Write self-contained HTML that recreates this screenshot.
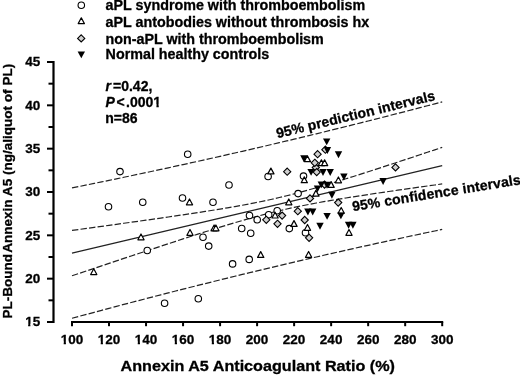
<!DOCTYPE html>
<html><head><meta charset="utf-8"><style>html,body{margin:0;padding:0;background:#fff;width:520px;height:376px;overflow:hidden;}svg{display:block;will-change:transform;filter:blur(0.3px);}svg text{font-family:"Liberation Sans",sans-serif;font-weight:bold;stroke:#000;stroke-width:0.3px;fill:#000;}</style></head>
<body>
<svg width="520" height="376" viewBox="0 0 520 376">
<rect width="520" height="376" fill="#fff"/>
<circle cx="81.3" cy="5.2" r="3.25" fill="#fff" stroke="#000" stroke-width="1.1"/>
<path d="M81.30,17.80 L84.40,23.60 L78.20,23.60 Z" fill="#fff" stroke="#000" stroke-width="1.2" stroke-linejoin="round"/>
<path d="M81.20,34.80 L84.80,38.40 L81.20,42.00 L77.60,38.40 Z" fill="#d0d0d0" stroke="#000" stroke-width="1.1"/>
<path d="M77.60,51.40 L85.00,51.40 L81.30,58.30 Z" fill="#000"/>
<text x="105.6" y="10.2"  font-size="14" textLength="259.6" lengthAdjust="spacingAndGlyphs">aPL syndrome with thromboembolism</text>
<text x="105.6" y="27.0"  font-size="14" textLength="263.6" lengthAdjust="spacingAndGlyphs">aPL antobodies without thrombosis hx</text>
<text x="105.6" y="43.8"  font-size="14" textLength="218.2" lengthAdjust="spacingAndGlyphs">non-aPL with thromboembolism</text>
<text x="105.6" y="58.6"  font-size="14" textLength="163.7" lengthAdjust="spacingAndGlyphs">Normal healthy controls</text>
<text y="91"  font-size="14"><tspan x="105.4" font-style="italic">r</tspan><tspan x="113">=0.42,</tspan></text>
<text y="106.9"  font-size="14"><tspan x="105.4" font-style="italic">P</tspan><tspan x="116.4">&lt;</tspan><tspan x="126.1">.0001</tspan></text>
<text x="105.3" y="122.8"  font-size="14">n=86</text>
<path d="M53.5,61 V323" stroke="#000" stroke-width="2.2" fill="none"/>
<path d="M47,322.00 H53.5" stroke="#000" stroke-width="2" fill="none"/>
<text x="40.2" y="326.30"  font-size="13.5" text-anchor="end">15</text>
<path d="M47,278.67 H53.5" stroke="#000" stroke-width="2" fill="none"/>
<text x="40.2" y="282.97"  font-size="13.5" text-anchor="end">20</text>
<path d="M47,235.33 H53.5" stroke="#000" stroke-width="2" fill="none"/>
<text x="40.2" y="239.63"  font-size="13.5" text-anchor="end">25</text>
<path d="M47,192.00 H53.5" stroke="#000" stroke-width="2" fill="none"/>
<text x="40.2" y="196.30"  font-size="13.5" text-anchor="end">30</text>
<path d="M47,148.67 H53.5" stroke="#000" stroke-width="2" fill="none"/>
<text x="40.2" y="152.97"  font-size="13.5" text-anchor="end">35</text>
<path d="M47,105.33 H53.5" stroke="#000" stroke-width="2" fill="none"/>
<text x="40.2" y="109.63"  font-size="13.5" text-anchor="end">40</text>
<path d="M47,62.00 H53.5" stroke="#000" stroke-width="2" fill="none"/>
<text x="40.2" y="66.30"  font-size="13.5" text-anchor="end">45</text>
<path d="M48.5,300.33 H53.5" stroke="#000" stroke-width="2" fill="none"/>
<path d="M48.5,257.00 H53.5" stroke="#000" stroke-width="2" fill="none"/>
<path d="M48.5,213.67 H53.5" stroke="#000" stroke-width="2" fill="none"/>
<path d="M48.5,170.33 H53.5" stroke="#000" stroke-width="2" fill="none"/>
<path d="M48.5,127.00 H53.5" stroke="#000" stroke-width="2" fill="none"/>
<path d="M48.5,83.67 H53.5" stroke="#000" stroke-width="2" fill="none"/>
<path d="M71,322 H443.2" stroke="#000" stroke-width="2.2" fill="none"/>
<path d="M72.00,322 V326.2" stroke="#000" stroke-width="2" fill="none"/>
<text x="72.00" y="343.9"  font-size="13.5" text-anchor="middle">100</text>
<path d="M109.02,322 V326.2" stroke="#000" stroke-width="2" fill="none"/>
<text x="109.02" y="343.9"  font-size="13.5" text-anchor="middle">120</text>
<path d="M146.04,322 V326.2" stroke="#000" stroke-width="2" fill="none"/>
<text x="146.04" y="343.9"  font-size="13.5" text-anchor="middle">140</text>
<path d="M183.06,322 V326.2" stroke="#000" stroke-width="2" fill="none"/>
<text x="183.06" y="343.9"  font-size="13.5" text-anchor="middle">160</text>
<path d="M220.08,322 V326.2" stroke="#000" stroke-width="2" fill="none"/>
<text x="220.08" y="343.9"  font-size="13.5" text-anchor="middle">180</text>
<path d="M257.10,322 V326.2" stroke="#000" stroke-width="2" fill="none"/>
<text x="257.10" y="343.9"  font-size="13.5" text-anchor="middle">200</text>
<path d="M294.12,322 V326.2" stroke="#000" stroke-width="2" fill="none"/>
<text x="294.12" y="343.9"  font-size="13.5" text-anchor="middle">220</text>
<path d="M331.14,322 V326.2" stroke="#000" stroke-width="2" fill="none"/>
<text x="331.14" y="343.9"  font-size="13.5" text-anchor="middle">240</text>
<path d="M368.16,322 V326.2" stroke="#000" stroke-width="2" fill="none"/>
<text x="368.16" y="343.9"  font-size="13.5" text-anchor="middle">260</text>
<path d="M405.18,322 V326.2" stroke="#000" stroke-width="2" fill="none"/>
<text x="405.18" y="343.9"  font-size="13.5" text-anchor="middle">280</text>
<path d="M442.20,322 V326.2" stroke="#000" stroke-width="2" fill="none"/>
<text x="442.20" y="343.9"  font-size="13.5" text-anchor="middle">300</text>
<text x="120.5" y="370.6"  font-size="15.5" textLength="274.5" lengthAdjust="spacingAndGlyphs">Annexin A5 Anticoagulant Ratio (%)</text>
<text transform="translate(12,318.5) rotate(-90)" x="0" y="0"  font-size="13.5">PL-Bound</text>
<text transform="translate(12,252.8) rotate(-90)" x="0" y="0"  font-size="13.5" textLength="189" lengthAdjust="spacingAndGlyphs">Annexin A5 (ng/aliquot of PL)</text>
<path d="M72.00,253.10 L79.40,251.35 L86.81,249.60 L94.21,247.85 L101.62,246.10 L109.02,244.36 L116.42,242.61 L123.83,240.86 L131.23,239.11 L138.64,237.36 L146.04,235.61 L153.44,233.86 L160.85,232.11 L168.25,230.36 L175.66,228.61 L183.06,226.87 L190.46,225.12 L197.87,223.37 L205.27,221.62 L212.68,219.87 L220.08,218.12 L227.48,216.37 L234.89,214.62 L242.29,212.87 L249.70,211.13 L257.10,209.38 L264.50,207.63 L271.91,205.88 L279.31,204.13 L286.72,202.38 L294.12,200.63 L301.52,198.88 L308.93,197.13 L316.33,195.39 L323.74,193.64 L331.14,191.89 L338.54,190.14 L345.95,188.39 L353.35,186.64 L360.76,184.89 L368.16,183.14 L375.56,181.39 L382.97,179.64 L390.37,177.90 L397.78,176.15 L405.18,174.40 L412.58,172.65 L419.99,170.90 L427.39,169.15 L434.80,167.40 L442.20,165.65" fill="none" stroke="#222" stroke-width="1.2"/>
<path d="M72.00,230.40 L79.40,229.39 L86.81,228.38 L94.21,227.37 L101.62,226.35 L109.02,225.33 L116.42,224.31 L123.83,223.28 L131.23,222.25 L138.64,221.21 L146.04,220.17 L153.44,219.12 L160.85,218.06 L168.25,216.99 L175.66,215.91 L183.06,214.82 L190.46,213.71 L197.87,212.59 L205.27,211.44 L212.68,210.27 L220.08,209.07 L227.48,207.83 L234.89,206.56 L242.29,205.23 L249.70,203.84 L257.10,202.39 L264.50,200.86 L271.91,199.24 L279.31,197.54 L286.72,195.75 L294.12,193.86 L301.52,191.90 L308.93,189.85 L316.33,187.74 L323.74,185.57 L331.14,183.35 L338.54,181.09 L345.95,178.79 L353.35,176.46 L360.76,174.11 L368.16,171.74 L375.56,169.35 L382.97,166.94 L390.37,164.52 L397.78,162.09 L405.18,159.66 L412.58,157.21 L419.99,154.75 L427.39,152.29 L434.80,149.83 L442.20,147.36" fill="none" stroke="#222" stroke-width="1.2" stroke-dasharray="6.4 2.2"/>
<path d="M72.00,275.80 L79.40,273.31 L86.81,270.82 L94.21,268.34 L101.62,265.86 L109.02,263.38 L116.42,260.90 L123.83,258.43 L131.23,255.97 L138.64,253.51 L146.04,251.05 L153.44,248.60 L160.85,246.17 L168.25,243.74 L175.66,241.32 L183.06,238.91 L190.46,236.52 L197.87,234.15 L205.27,231.80 L212.68,229.47 L220.08,227.17 L227.48,224.91 L234.89,222.69 L242.29,220.52 L249.70,218.41 L257.10,216.36 L264.50,214.40 L271.91,212.51 L279.31,210.72 L286.72,209.02 L294.12,207.40 L301.52,205.87 L308.93,204.42 L316.33,203.03 L323.74,201.70 L331.14,200.43 L338.54,199.19 L345.95,197.99 L353.35,196.82 L360.76,195.67 L368.16,194.55 L375.56,193.44 L382.97,192.35 L390.37,191.27 L397.78,190.20 L405.18,189.14 L412.58,188.09 L419.99,187.05 L427.39,186.01 L434.80,184.98 L442.20,183.95" fill="none" stroke="#222" stroke-width="1.2" stroke-dasharray="6.4 2.2"/>
<path d="M72.00,187.92 L79.40,186.43 L86.81,184.92 L94.21,183.41 L101.62,181.89 L109.02,180.36 L116.42,178.83 L123.83,177.28 L131.23,175.73 L138.64,174.16 L146.04,172.59 L153.44,171.01 L160.85,169.42 L168.25,167.82 L175.66,166.21 L183.06,164.59 L190.46,162.96 L197.87,161.32 L205.27,159.68 L212.68,158.02 L220.08,156.35 L227.48,154.68 L234.89,152.99 L242.29,151.30 L249.70,149.59 L257.10,147.88 L264.50,146.15 L271.91,144.42 L279.31,142.68 L286.72,140.92 L294.12,139.16 L301.52,137.38 L308.93,135.60 L316.33,133.81 L323.74,132.01 L331.14,130.19 L338.54,128.37 L345.95,126.54 L353.35,124.70 L360.76,122.85 L368.16,120.99 L375.56,119.12 L382.97,117.24 L390.37,115.35 L397.78,113.45 L405.18,111.54 L412.58,109.63 L419.99,107.70 L427.39,105.77 L434.80,103.83 L442.20,101.87" fill="none" stroke="#222" stroke-width="1.2" stroke-dasharray="6.4 2.2"/>
<path d="M72.00,318.28 L79.40,316.28 L86.81,314.28 L94.21,312.30 L101.62,310.32 L109.02,308.35 L116.42,306.39 L123.83,304.43 L131.23,302.49 L138.64,300.56 L146.04,298.63 L153.44,296.72 L160.85,294.81 L168.25,292.91 L175.66,291.02 L183.06,289.14 L190.46,287.27 L197.87,285.41 L205.27,283.56 L212.68,281.72 L220.08,279.89 L227.48,278.07 L234.89,276.25 L242.29,274.45 L249.70,272.66 L257.10,270.87 L264.50,269.10 L271.91,267.34 L279.31,265.58 L286.72,263.84 L294.12,262.11 L301.52,260.38 L308.93,258.67 L316.33,256.96 L323.74,255.27 L331.14,253.58 L338.54,251.91 L345.95,250.24 L353.35,248.58 L360.76,246.94 L368.16,245.30 L375.56,243.67 L382.97,242.05 L390.37,240.44 L397.78,238.84 L405.18,237.25 L412.58,235.67 L419.99,234.10 L427.39,232.53 L434.80,230.98 L442.20,229.43" fill="none" stroke="#222" stroke-width="1.2" stroke-dasharray="6.4 2.2"/>
<rect x="60.69" y="341.42" width="3.00" height="4.18" fill="#fff"/><rect x="65.94" y="341.42" width="2.43" height="4.18" fill="#fff"/>
<rect x="97.71" y="341.42" width="3.00" height="4.18" fill="#fff"/><rect x="102.96" y="341.42" width="2.43" height="4.18" fill="#fff"/>
<rect x="134.73" y="341.42" width="3.00" height="4.18" fill="#fff"/><rect x="139.98" y="341.42" width="2.43" height="4.18" fill="#fff"/>
<rect x="171.75" y="341.42" width="3.00" height="4.18" fill="#fff"/><rect x="177.00" y="341.42" width="2.43" height="4.18" fill="#fff"/>
<rect x="208.77" y="341.42" width="3.00" height="4.18" fill="#fff"/><rect x="214.02" y="341.42" width="2.43" height="4.18" fill="#fff"/>
<rect x="25.13" y="323.82" width="3.00" height="4.18" fill="#fff"/><rect x="30.39" y="323.82" width="2.43" height="4.18" fill="#fff"/>
<rect x="153.33" y="104.37" width="3.09" height="4.23" fill="#fff"/><rect x="158.74" y="104.37" width="2.51" height="4.23" fill="#fff"/>
<text transform="translate(277.4,138.3) rotate(-13.6)"  font-size="14" textLength="163" lengthAdjust="spacing">95% prediction intervals</text>
<text transform="translate(352.9,211.2) rotate(-9.1)"  font-size="14" textLength="170.4" lengthAdjust="spacing">95% confidence intervals</text>
<circle cx="120" cy="171.6" r="3.25" fill="#fff" stroke="#000" stroke-width="1.1"/>
<circle cx="108.5" cy="206.75" r="3.25" fill="#fff" stroke="#000" stroke-width="1.1"/>
<circle cx="142.75" cy="202.25" r="3.25" fill="#fff" stroke="#000" stroke-width="1.1"/>
<circle cx="147.25" cy="250.5" r="3.25" fill="#fff" stroke="#000" stroke-width="1.1"/>
<circle cx="164.6" cy="303.3" r="3.25" fill="#fff" stroke="#000" stroke-width="1.1"/>
<circle cx="198.3" cy="298.8" r="3.25" fill="#fff" stroke="#000" stroke-width="1.1"/>
<circle cx="187.7" cy="154.2" r="3.25" fill="#fff" stroke="#000" stroke-width="1.1"/>
<circle cx="229" cy="185" r="3.25" fill="#fff" stroke="#000" stroke-width="1.1"/>
<circle cx="182.5" cy="198" r="3.25" fill="#fff" stroke="#000" stroke-width="1.1"/>
<circle cx="213" cy="202.25" r="3.25" fill="#fff" stroke="#000" stroke-width="1.1"/>
<circle cx="249.5" cy="215.5" r="3.25" fill="#fff" stroke="#000" stroke-width="1.1"/>
<circle cx="241.7" cy="228.5" r="3.25" fill="#fff" stroke="#000" stroke-width="1.1"/>
<circle cx="250.7" cy="233.2" r="3.25" fill="#fff" stroke="#000" stroke-width="1.1"/>
<circle cx="203" cy="237.3" r="3.25" fill="#fff" stroke="#000" stroke-width="1.1"/>
<circle cx="208.7" cy="246.1" r="3.25" fill="#fff" stroke="#000" stroke-width="1.1"/>
<circle cx="232.6" cy="263.9" r="3.25" fill="#fff" stroke="#000" stroke-width="1.1"/>
<circle cx="249.2" cy="259.4" r="3.25" fill="#fff" stroke="#000" stroke-width="1.1"/>
<circle cx="257.2" cy="219.8" r="3.25" fill="#fff" stroke="#000" stroke-width="1.1"/>
<circle cx="268.7" cy="214.7" r="3.25" fill="#fff" stroke="#000" stroke-width="1.1"/>
<circle cx="277.2" cy="210.7" r="3.25" fill="#fff" stroke="#000" stroke-width="1.1"/>
<circle cx="268.1" cy="176.5" r="3.25" fill="#fff" stroke="#000" stroke-width="1.1"/>
<circle cx="303.5" cy="176.1" r="3.25" fill="#fff" stroke="#000" stroke-width="1.1"/>
<circle cx="298.1" cy="193.6" r="3.25" fill="#fff" stroke="#000" stroke-width="1.1"/>
<circle cx="289.3" cy="228.6" r="3.25" fill="#fff" stroke="#000" stroke-width="1.1"/>
<circle cx="305.5" cy="232.7" r="3.25" fill="#fff" stroke="#000" stroke-width="1.1"/>
<path d="M93.75,268.75 L96.85,274.55 L90.65,274.55 Z" fill="#fff" stroke="#000" stroke-width="1.2" stroke-linejoin="round"/>
<path d="M141.00,234.00 L144.10,239.80 L137.90,239.80 Z" fill="#fff" stroke="#000" stroke-width="1.2" stroke-linejoin="round"/>
<path d="M189.50,199.00 L192.60,204.80 L186.40,204.80 Z" fill="#fff" stroke="#000" stroke-width="1.2" stroke-linejoin="round"/>
<path d="M190.00,229.50 L193.10,235.30 L186.90,235.30 Z" fill="#fff" stroke="#000" stroke-width="1.2" stroke-linejoin="round"/>
<path d="M214.10,225.00 L217.20,230.80 L211.00,230.80 Z" fill="#fff" stroke="#000" stroke-width="1.2" stroke-linejoin="round"/>
<path d="M215.90,225.00 L219.00,230.80 L212.80,230.80 Z" fill="#fff" stroke="#000" stroke-width="1.2" stroke-linejoin="round"/>
<path d="M260.70,251.60 L263.80,257.40 L257.60,257.40 Z" fill="#fff" stroke="#000" stroke-width="1.2" stroke-linejoin="round"/>
<path d="M275.10,212.20 L278.20,218.00 L272.00,218.00 Z" fill="#fff" stroke="#000" stroke-width="1.2" stroke-linejoin="round"/>
<path d="M288.80,199.00 L291.90,204.80 L285.70,204.80 Z" fill="#fff" stroke="#000" stroke-width="1.2" stroke-linejoin="round"/>
<path d="M270.90,168.10 L274.00,173.90 L267.80,173.90 Z" fill="#fff" stroke="#000" stroke-width="1.2" stroke-linejoin="round"/>
<path d="M304.30,176.90 L307.40,182.70 L301.20,182.70 Z" fill="#fff" stroke="#000" stroke-width="1.2" stroke-linejoin="round"/>
<path d="M307.40,155.80 L310.50,161.60 L304.30,161.60 Z" fill="#fff" stroke="#000" stroke-width="1.2" stroke-linejoin="round"/>
<path d="M321.40,159.80 L324.50,165.60 L318.30,165.60 Z" fill="#fff" stroke="#000" stroke-width="1.2" stroke-linejoin="round"/>
<path d="M324.60,159.80 L327.70,165.60 L321.50,165.60 Z" fill="#fff" stroke="#000" stroke-width="1.2" stroke-linejoin="round"/>
<path d="M331.10,181.60 L334.20,187.40 L328.00,187.40 Z" fill="#fff" stroke="#000" stroke-width="1.2" stroke-linejoin="round"/>
<path d="M338.40,177.00 L341.50,182.80 L335.30,182.80 Z" fill="#fff" stroke="#000" stroke-width="1.2" stroke-linejoin="round"/>
<path d="M315.90,190.30 L319.00,196.10 L312.80,196.10 Z" fill="#fff" stroke="#000" stroke-width="1.2" stroke-linejoin="round"/>
<path d="M294.00,220.60 L297.10,226.40 L290.90,226.40 Z" fill="#fff" stroke="#000" stroke-width="1.2" stroke-linejoin="round"/>
<path d="M307.50,224.50 L310.60,230.30 L304.40,230.30 Z" fill="#fff" stroke="#000" stroke-width="1.2" stroke-linejoin="round"/>
<path d="M308.60,251.50 L311.70,257.30 L305.50,257.30 Z" fill="#fff" stroke="#000" stroke-width="1.2" stroke-linejoin="round"/>
<path d="M341.20,207.50 L344.30,213.30 L338.10,213.30 Z" fill="#fff" stroke="#000" stroke-width="1.2" stroke-linejoin="round"/>
<path d="M349.00,229.50 L352.10,235.30 L345.90,235.30 Z" fill="#fff" stroke="#000" stroke-width="1.2" stroke-linejoin="round"/>
<path d="M315.80,164.00 L319.40,167.60 L315.80,171.20 L312.20,167.60 Z" fill="#d0d0d0" stroke="#000" stroke-width="1.1"/>
<path d="M287.20,168.10 L290.80,171.70 L287.20,175.30 L283.60,171.70 Z" fill="#d0d0d0" stroke="#000" stroke-width="1.1"/>
<path d="M317.60,150.60 L321.20,154.20 L317.60,157.80 L314.00,154.20 Z" fill="#d0d0d0" stroke="#000" stroke-width="1.1"/>
<path d="M325.40,146.10 L329.00,149.70 L325.40,153.30 L321.80,149.70 Z" fill="#d0d0d0" stroke="#000" stroke-width="1.1"/>
<path d="M314.80,159.20 L318.40,162.80 L314.80,166.40 L311.20,162.80 Z" fill="#d0d0d0" stroke="#000" stroke-width="1.1"/>
<path d="M316.70,168.50 L320.30,172.10 L316.70,175.70 L313.10,172.10 Z" fill="#d0d0d0" stroke="#000" stroke-width="1.1"/>
<path d="M310.00,194.80 L313.60,198.40 L310.00,202.00 L306.40,198.40 Z" fill="#d0d0d0" stroke="#000" stroke-width="1.1"/>
<path d="M297.80,207.60 L301.40,211.20 L297.80,214.80 L294.20,211.20 Z" fill="#d0d0d0" stroke="#000" stroke-width="1.1"/>
<path d="M282.10,212.00 L285.70,215.60 L282.10,219.20 L278.50,215.60 Z" fill="#d0d0d0" stroke="#000" stroke-width="1.1"/>
<path d="M266.30,216.20 L269.90,219.80 L266.30,223.40 L262.70,219.80 Z" fill="#d0d0d0" stroke="#000" stroke-width="1.1"/>
<path d="M277.50,220.20 L281.10,223.80 L277.50,227.40 L273.90,223.80 Z" fill="#d0d0d0" stroke="#000" stroke-width="1.1"/>
<path d="M304.70,216.40 L308.30,220.00 L304.70,223.60 L301.10,220.00 Z" fill="#d0d0d0" stroke="#000" stroke-width="1.1"/>
<path d="M309.10,234.20 L312.70,237.80 L309.10,241.40 L305.50,237.80 Z" fill="#d0d0d0" stroke="#000" stroke-width="1.1"/>
<path d="M338.20,199.00 L341.80,202.60 L338.20,206.20 L334.60,202.60 Z" fill="#d0d0d0" stroke="#000" stroke-width="1.1"/>
<path d="M395.50,163.80 L399.10,167.40 L395.50,171.00 L391.90,167.40 Z" fill="#d0d0d0" stroke="#000" stroke-width="1.1"/>
<path d="M324.50,181.00 L328.10,184.60 L324.50,188.20 L320.90,184.60 Z" fill="#d0d0d0" stroke="#000" stroke-width="1.1"/>
<path d="M323.00,138.40 L330.40,138.40 L326.70,145.30 Z" fill="#000"/>
<path d="M323.70,147.00 L331.10,147.00 L327.40,153.90 Z" fill="#000"/>
<path d="M334.80,151.30 L342.20,151.30 L338.50,158.20 Z" fill="#000"/>
<path d="M300.20,155.30 L307.60,155.30 L303.90,162.20 Z" fill="#000"/>
<path d="M307.40,168.90 L314.80,168.90 L311.10,175.80 Z" fill="#000"/>
<path d="M319.30,169.00 L326.70,169.00 L323.00,175.90 Z" fill="#000"/>
<path d="M326.50,169.00 L333.90,169.00 L330.20,175.90 Z" fill="#000"/>
<path d="M340.20,173.50 L347.60,173.50 L343.90,180.40 Z" fill="#000"/>
<path d="M317.60,181.40 L325.00,181.40 L321.30,188.30 Z" fill="#000"/>
<path d="M323.30,181.80 L330.70,181.80 L327.00,188.70 Z" fill="#000"/>
<path d="M313.80,185.40 L321.20,185.40 L317.50,192.30 Z" fill="#000"/>
<path d="M328.20,191.80 L335.60,191.80 L331.90,198.70 Z" fill="#000"/>
<path d="M304.20,208.50 L311.60,208.50 L307.90,215.40 Z" fill="#000"/>
<path d="M309.00,208.50 L316.40,208.50 L312.70,215.40 Z" fill="#000"/>
<path d="M323.40,212.90 L330.80,212.90 L327.10,219.80 Z" fill="#000"/>
<path d="M337.20,212.40 L344.60,212.40 L340.90,219.30 Z" fill="#000"/>
<path d="M316.30,222.80 L323.70,222.80 L320.00,229.70 Z" fill="#000"/>
<path d="M344.90,221.80 L352.30,221.80 L348.60,228.70 Z" fill="#000"/>
<path d="M349.20,221.80 L356.60,221.80 L352.90,228.70 Z" fill="#000"/>
<path d="M379.40,178.00 L386.80,178.00 L383.10,184.90 Z" fill="#000"/>
</svg>
</body></html>
